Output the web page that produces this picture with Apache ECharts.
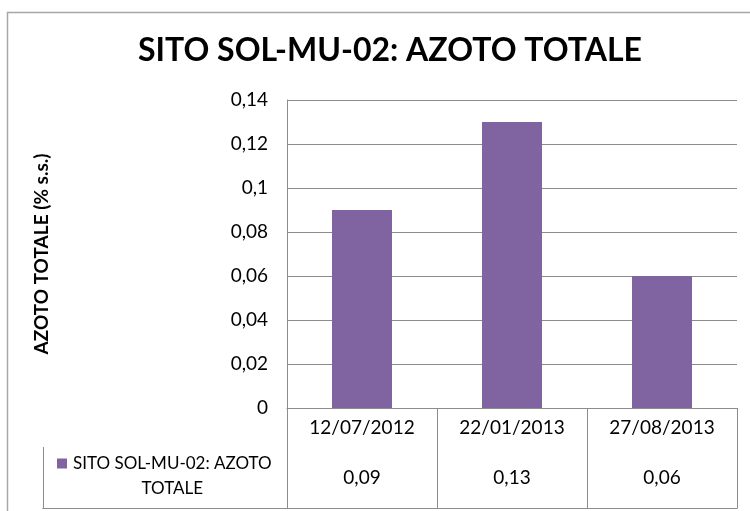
<!DOCTYPE html>
<html>
<head>
<meta charset="utf-8">
<script src="https://cdn.jsdelivr.net/npm/echarts@6/dist/echarts.min.js"></script>
<style>
  html, body { margin: 0; padding: 0; background: #fff; }
  #chart { width: 750px; height: 511px; }
</style>
</head>
<body>
<div id="chart"></div>
<script>
const chartTitle = 'SITO SOL-MU-02: AZOTO TOTALE';
const seriesName = 'SITO SOL-MU-02: AZOTO TOTALE';
const yAxisName = 'AZOTO TOTALE (% s.s.)';
const categories = ['12/07/2012', '22/01/2013', '27/08/2013'];
const values = [0.09, 0.13, 0.06];
const yMin = 0;
const yMax = 0.14;
const yStep = 0.02;

const barColor = '#8064A2';
const lineColor = '#8c8c8c';
const fontName = 'Lato';

// decimal comma, like the original sheet
function fmt(v) {
    return String(Number(v.toFixed(2))).replace('.', ',');
}

const cut = seriesName.lastIndexOf(' ');
const legendLine1 = seriesName.slice(0, cut);
const legendLine2 = seriesName.slice(cut + 1);

const lineStyle = { color: lineColor, width: 1 };

function getOption() {
    return {
        animation: false,
        backgroundColor: '#fff',
        textStyle: { fontFamily: fontName },
        title: {
            text: chartTitle,
            left: 133,
            top: 30,
            textStyle: { fontSize: 32, fontWeight: 'bold', color: '#000', fontFamily: fontName }
        },
        graphic: [
            {
                type: 'rect',
                shape: { x: 7.5, y: 12.5, width: 800, height: 600 },
                style: { fill: null, stroke: '#a6a6a6', lineWidth: 1.5 },
                silent: true
            }
        ],
        legend: {
            data: [seriesName],
            left: 47,
            top: 450,
            itemWidth: 0,
            itemHeight: 0,
            selectedMode: false,
            formatter: () => '{sq|}{a|' + legendLine1 + '}\n{b|' + legendLine2 + '}',
            textStyle: {
                color: '#000',
                fontFamily: fontName,
                fontSize: 17,
                rich: {
                    sq: { width: 10, height: 10, backgroundColor: barColor },
                    a: { fontSize: 17, lineHeight: 25, padding: [0, 0, 0, 6], fontFamily: fontName, color: '#000' },
                    b: { fontSize: 17, lineHeight: 25, align: 'center', padding: [0, 0, 0, 16], fontFamily: fontName, color: '#000' }
                }
            }
        },
        grid: [
            { left: 287, right: 13, top: 100, bottom: 103 },
            { left: 287, right: 13, top: 447, height: 61 },
            { left: 43, width: 244, top: 447, height: 61 }
        ],
        xAxis: [
            {
                gridIndex: 0,
                type: 'category',
                data: categories,
                axisLine: { show: true, lineStyle: lineStyle },
                axisTick: { show: true, length: 39, lineStyle: lineStyle },
                axisLabel: { margin: 10, fontSize: 19, color: '#000', fontFamily: fontName },
                splitLine: { show: false }
            },
            {
                gridIndex: 1,
                type: 'category',
                position: 'top',
                data: categories,
                axisLine: { show: true, lineStyle: lineStyle },
                axisTick: { show: false },
                axisLabel: { show: false },
                splitLine: { show: true, lineStyle: lineStyle }
            },
            {
                gridIndex: 1,
                type: 'category',
                position: 'bottom',
                data: values.map(fmt),
                axisLine: { show: true, lineStyle: lineStyle },
                axisTick: { show: false },
                axisLabel: { inside: true, margin: 21, fontSize: 19, color: '#000', fontFamily: fontName },
                splitLine: { show: false }
            },
            {
                gridIndex: 2,
                type: 'category',
                position: 'top',
                data: [''],
                axisLine: { show: true, lineStyle: lineStyle },
                axisTick: { show: false },
                axisLabel: { show: false },
                splitLine: { show: true, lineStyle: lineStyle }
            },
            {
                gridIndex: 2,
                type: 'category',
                position: 'bottom',
                data: [''],
                axisLine: { show: true, lineStyle: lineStyle },
                axisTick: { show: false },
                axisLabel: { show: false }
            }
        ],
        yAxis: [
            {
                gridIndex: 0,
                type: 'value',
                min: yMin,
                max: yMax,
                interval: yStep,
                name: yAxisName,
                nameLocation: 'middle',
                nameRotate: 90,
                nameGap: 236,
                nameTextStyle: { fontSize: 19, fontWeight: 'bold', color: '#000', fontFamily: fontName },
                axisLine: { show: true, lineStyle: lineStyle },
                axisTick: { show: false },
                axisLabel: { margin: 19, fontSize: 19, color: '#000', fontFamily: fontName, formatter: fmt },
                splitLine: { show: true, lineStyle: lineStyle }
            },
            { gridIndex: 1, type: 'value', show: false },
            { gridIndex: 2, type: 'value', show: false }
        ],
        series: [
            {
                name: seriesName,
                type: 'bar',
                xAxisIndex: 0,
                yAxisIndex: 0,
                barWidth: '40%',
                itemStyle: { color: barColor },
                data: values
            }
        ]
    };
}

const myChart = echarts.init(document.getElementById('chart'));
myChart.setOption(getOption());
</script>
</body>
</html>
